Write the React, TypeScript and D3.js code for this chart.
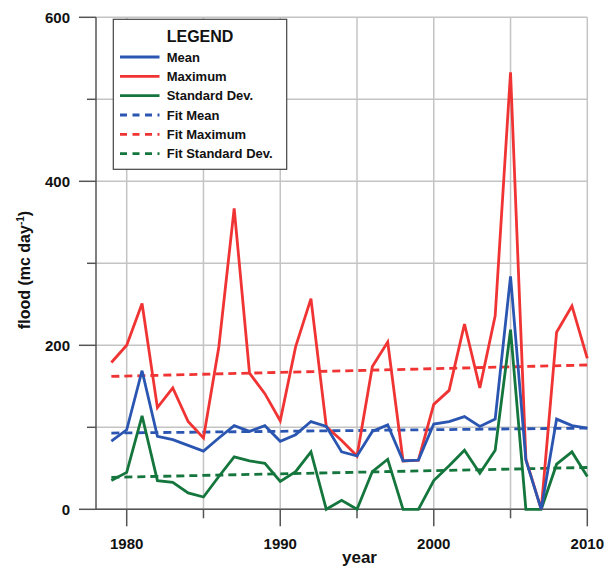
import React from "react";
import * as d3 from "d3";

const years = d3.range(1979, 2011);
const meanValues = [83, 97, 169, 89, 85, 78, 71, 87, 102, 95, 102, 83, 91, 107, 101, 70, 65, 95, 103, 59, 60, 104, 107, 113, 101, 110, 284, 60, 0, 110, 102, 99];
const maxValues = [179, 200, 251, 124, 148, 107, 87, 198, 367, 166, 141, 108, 198, 257, 101, 84, 65, 174, 204, 59, 60, 128, 145, 226, 148, 236, 533, 61, 0, 216, 248, 184];
const stdValues = [35, 45, 114, 35, 33, 20, 15, 40, 64, 59, 56, 34, 46, 70, 0, 11, 0, 46, 61, 0, 0, 35, 53, 72, 44, 72, 219, 0, 0, 55, 70, 40];
const fitYears = [1979, 2010];
const fitMean = [93, 99];
const fitMax = [162, 176];
const fitStd = [39, 51];
const yTicks = [0, 100, 200, 300, 400, 500, 600];
const yLabelTicks = [0, 200, 400, 600];
const xTicks = [1980, 1985, 1990, 1995, 2000, 2005, 2010];
const xLabelTicks = [1980, 1990, 2000, 2010];

const BLUE = "#2a56b2";
const RED = "#f03434";
const GREEN = "#14763c";

const legendItems = [
  { label: "Mean", color: BLUE, dashed: false },
  { label: "Maximum", color: RED, dashed: false },
  { label: "Standard Dev.", color: GREEN, dashed: false },
  { label: "Fit Mean", color: BLUE, dashed: true },
  { label: "Fit Maximum", color: RED, dashed: true },
  { label: "Fit Standard Dev.", color: GREEN, dashed: true },
];

export default function App() {
  const W = 611, H = 569;
  const left = 96, right = 587.3, top = 17.3, bottom = 509.3;
  const x = d3.scaleLinear().domain([1978, 2010]).range([left, right]);
  const y = d3.scaleLinear().domain([0, 600]).range([bottom, top]);
  const line = d3
    .line<[number, number]>()
    .x((d) => x(d[0]))
    .y((d) => y(d[1]));
  const series = (vals: number[]) => years.map((yr, i) => [yr, vals[i]] as [number, number]);
  const fit = (vals: number[]) => fitYears.map((yr, i) => [yr, vals[i]] as [number, number]);
  const font = "Liberation Sans, Arial, Helvetica, sans-serif";
  const grid = "#c4c4c4";
  const axis = "#555";
  const lw = 2.8;

  return (
    <svg width={W} height={H} style={{ position: "absolute", left: 0, top: 0, background: "#fff" }} fontFamily={font}>
      {/* grid */}
      {yTicks.map((t) => (
        <line key={"gy" + t} x1={left} x2={right} y1={y(t)} y2={y(t)} stroke={grid} strokeWidth={1.5} />
      ))}
      {xTicks.map((t) => (
        <line key={"gx" + t} x1={x(t)} x2={x(t)} y1={top} y2={bottom} stroke={grid} strokeWidth={1.5} />
      ))}
      {/* axes */}
      <line x1={left} x2={left} y1={top} y2={bottom} stroke={axis} strokeWidth={1.5} />
      <line x1={left} x2={right} y1={bottom} y2={bottom} stroke={axis} strokeWidth={1.5} />
      {yTicks.map((t) => (
        <line key={"ty" + t} x1={left - (yLabelTicks.includes(t) ? 17 : 9)} x2={left} y1={y(t)} y2={y(t)} stroke={axis} strokeWidth={1.5} />
      ))}
      {xTicks.map((t) => (
        <line key={"tx" + t} x1={x(t)} x2={x(t)} y1={bottom} y2={bottom + (xLabelTicks.includes(t) ? 17 : 9)} stroke={axis} strokeWidth={1.5} />
      ))}
      {yLabelTicks.map((t) => (
        <text key={"ly" + t} x={70} y={y(t) + 5.3} textAnchor="end" fontSize={15} fontWeight="bold" fill="#111">
          {t}
        </text>
      ))}
      {xLabelTicks.map((t) => (
        <text key={"lx" + t} x={x(t)} y={548.5} textAnchor="middle" fontSize={15} fontWeight="bold" fill="#111">
          {t}
        </text>
      ))}
      <text x={359.5} y={563} textAnchor="middle" fontSize={17} fontWeight="bold" fill="#111">
        year
      </text>
      <text transform="translate(30,270) rotate(-90)" textAnchor="middle" fontSize={16} fontWeight="bold" fill="#111">
        flood (mc day<tspan dy={-6} fontSize={10}>-1</tspan>
        <tspan dy={6}>)</tspan>
      </text>
      {/* fit lines */}
      <path d={line(fit(fitMax)) || ""} fill="none" stroke={RED} strokeWidth={lw} strokeDasharray="8,5" />
      <path d={line(fit(fitMean)) || ""} fill="none" stroke={BLUE} strokeWidth={lw} strokeDasharray="8,5" />
      <path d={line(fit(fitStd)) || ""} fill="none" stroke={GREEN} strokeWidth={lw} strokeDasharray="8,5" />
      {/* data lines */}
      <path d={line(series(stdValues)) || ""} fill="none" stroke={GREEN} strokeWidth={lw} strokeLinejoin="miter" />
      <path d={line(series(maxValues)) || ""} fill="none" stroke={RED} strokeWidth={lw} strokeLinejoin="miter" />
      <path d={line(series(meanValues)) || ""} fill="none" stroke={BLUE} strokeWidth={lw} strokeLinejoin="miter" />
      {/* legend */}
      <rect x={113.3} y={19.3} width={173.4} height={150} fill="#fff" stroke="#444" strokeWidth={1.2} />
      <text x={166.7} y={41.7} fontSize={16} fontWeight="bold" fill="#111">
        LEGEND
      </text>
      {legendItems.map((it, i) => {
        const cy = 57 + i * 19.33;
        return (
          <g key={it.label}>
            <line x1={120} x2={159.5} y1={cy} y2={cy} stroke={it.color} strokeWidth={lw} strokeDasharray={it.dashed ? "7,5.5" : undefined} />
            <text x={166.7} y={cy + 4.6} fontSize={13} fontWeight="bold" fill="#111">
              {it.label}
            </text>
          </g>
        );
      })}
    </svg>
  );
}
